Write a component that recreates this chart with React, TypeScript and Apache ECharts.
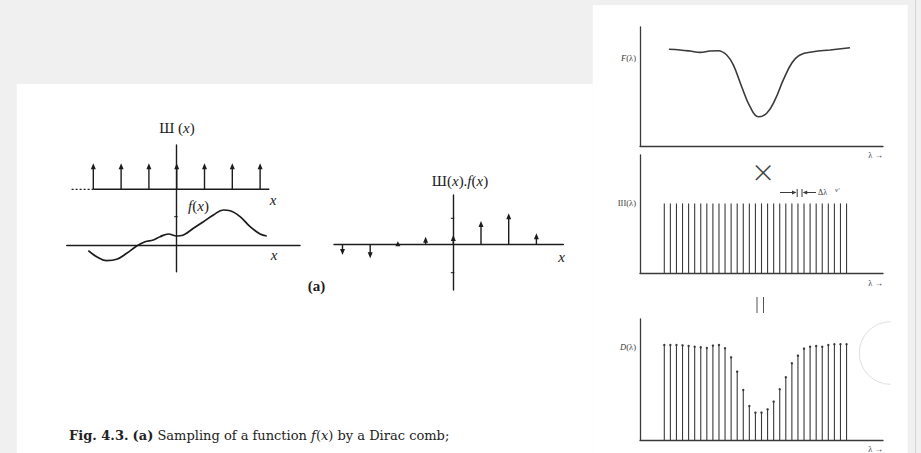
import React, { useEffect, useRef } from "react";
import * as echarts from "echarts";

// ---- Left figure: Dirac comb Ш(x) and f(x) ----
const combX = [-3, -2, -1, 0, 1, 2, 3];
const combBase = 55.7;
const combTop = 81.7;
const fCurve: number[][] = [
  [-3.18, -5.7], [-2.88, -11.7], [-2.52, -15.7], [-2.16, -14.3], [-1.8, -8.3],
  [-1.44, -1], [-1.14, 3.3], [-0.84, 5], [-0.6, 8.3], [-0.3, 11], [0, 9],
  [0.24, 10], [0.6, 16.7], [0.96, 23.3], [1.32, 30], [1.68, 35], [1.92, 34.3],
  [2.28, 28.3], [2.64, 18.3], [3.0, 11], [3.24, 9],
];
// ---- Sampled product Ш(x).f(x) ----
const sampleX = [-4, -3, -2, -1, 0, 1, 2, 3];
const sampleValues = [-10.7, -14, 3, 7.6, 9.3, 23.3, 31, 11];

// ---- Right figure: F(λ), III(λ), D(λ) ----
const fLambda: number[][] = [
  [4.77, 81.3], [6.58, 80.7], [8.23, 79.8], [9.88, 78.7], [11.52, 79.8],
  [12.89, 80.1], [14.27, 76.5], [15.36, 68.1], [16.74, 49.8], [18.11, 33.0],
  [19.47, 24.6], [20.86, 27.5], [22.22, 38.7], [23.59, 55.5], [24.97, 69.5],
  [26.34, 76.5], [28.53, 79.2], [31.28, 80.7], [34.57, 82.6],
];
const lambdaSamples = [
  4, 5, 6, 7, 8, 9, 10, 11, 12, 13, 14, 15, 16, 17, 18, 19, 20, 21, 22, 23,
  24, 25, 26, 27, 28, 29, 30, 31, 32, 33, 34,
];
const combValues = [
  59, 59, 59, 59, 59, 59, 59, 59, 59, 59, 59, 59, 59, 59, 59, 59, 59, 59, 59,
  59, 59, 59, 59, 59, 59, 59, 59, 59, 59, 59, 59,
];
const dValues = [
  78.5, 78.5, 78.5, 78.2, 77.7, 77.1, 76.6, 76.0, 78.0, 78.5, 75.8, 68.3, 56.5,
  41.3, 28.1, 22.6, 22.6, 25.3, 31.7, 41.9, 51.8, 63.4, 69.7, 75.5, 77.1, 77.7,
  77.1, 78.5, 79.1, 79.1, 79.1,
];

const INK = "#1c1c1c";
const INK2 = "#3a3a3a";
const SERIF = "Liberation Serif";

function axis(gridIndex: number, min: number, max: number, color: string, width: number, onZero: boolean) {
  return {
    type: "value",
    gridIndex,
    min,
    max,
    z: 5,
    axisLine: { show: true, onZero, lineStyle: { color, width } },
    axisTick: { show: false },
    axisLabel: { show: false },
    splitLine: { show: false },
  };
}

function arrowRender(color: string) {
  return (_p: any, api: any) => {
    const x = api.value(0);
    const y0 = api.value(1);
    const y1 = api.value(2);
    const p0 = api.coord([x, y0]);
    const p1 = api.coord([x, y1]);
    const dir = p1[1] < p0[1] ? -1 : 1;
    const len = Math.abs(p1[1] - p0[1]);
    const hh = Math.min(6, len + 2);
    const hw = 2.5;
    return {
      type: "group",
      children: [
        {
          type: "line",
          shape: { x1: p0[0], y1: p0[1], x2: p1[0], y2: p1[1] - dir * hh * 0.5 },
          style: { stroke: color, lineWidth: 1.4 },
        },
        {
          type: "polygon",
          shape: {
            points: [
              [p1[0], p1[1]],
              [p1[0] - hw, p1[1] - dir * hh],
              [p1[0] + hw, p1[1] - dir * hh],
            ],
          },
          style: { fill: color },
        },
      ],
    };
  };
}

function tickRender(color: string) {
  return (_p: any, api: any) => {
    const p = api.coord([api.value(0), api.value(1)]);
    return {
      type: "line",
      shape: { x1: p[0] - 2.5, y1: p[1], x2: p[0] + 1, y2: p[1] },
      style: { stroke: color, lineWidth: 1 },
    };
  };
}

function stemRender(color: string, dot: boolean) {
  return (_p: any, api: any) => {
    const x = api.value(0);
    const v = api.value(1);
    const p0 = api.coord([x, 0]);
    const p1 = api.coord([x, v]);
    const children: any[] = [
      {
        type: "line",
        shape: { x1: p0[0], y1: p0[1], x2: p1[0], y2: p1[1] },
        style: { stroke: color, lineWidth: 1.1 },
      },
    ];
    if (dot) {
      children.push({
        type: "circle",
        shape: { cx: p1[0], cy: p1[1], r: 1.2 },
        style: { fill: color },
      });
    }
    return { type: "group", children };
  };
}

function txt(x: number, y: number, text: string, size: number, align: string, extra: any = {}) {
  return {
    type: "text",
    x,
    y,
    z: 20,
    silent: true,
    style: {
      text,
      x: 0,
      y: 0,
      fontFamily: SERIF,
      fontSize: size,
      fill: INK,
      align,
      verticalAlign: "middle",
      ...extra,
    },
  };
}

export default function App() {
  const ref = useRef<HTMLDivElement>(null);

  useEffect(() => {
    if (!ref.current) return;
    const chart = echarts.init(ref.current, undefined, { renderer: "svg" });

    const italic = (size: number, fam = SERIF) => ({ fontStyle: "italic", fontSize: size, fontFamily: fam });

    const option: any = {
      animation: false,
      backgroundColor: "#f0f0f0",
      grid: [
        { left: 66.7, top: 145, width: 233.3, height: 126.7 },
        { left: 334, top: 195, width: 229.3, height: 95 },
        { left: 640, top: 27, width: 243, height: 119 },
        { left: 640, top: 155, width: 243, height: 118 },
        { left: 640, top: 319, width: 243, height: 121 },
      ],
      xAxis: [
        axis(0, -3.957, 4.435, INK, 1.4, true),
        axis(1, -4.307, 3.971, INK, 1.4, true),
        axis(2, 0, 40, INK2, 1.3, false),
        axis(3, 0, 40, INK2, 1.3, false),
        axis(4, 0, 40, INK2, 1.3, false),
      ],
      yAxis: [
        axis(0, -26.7, 100, INK, 1.4, true),
        axis(1, -45.7, 49.3, INK, 1.4, true),
        axis(2, 0, 100, INK2, 1.3, false),
        axis(3, 0, 100, INK2, 1.3, false),
        axis(4, 0, 100, INK2, 1.3, false),
      ],
      series: [
        {
          type: "line",
          xAxisIndex: 0,
          yAxisIndex: 0,
          data: fCurve,
          smooth: 0.4,
          showSymbol: false,
          z: 6,
          lineStyle: { color: INK, width: 1.7 },
        },
        {
          type: "line",
          xAxisIndex: 0,
          yAxisIndex: 0,
          data: [[-3.0, combBase], [3.33, combBase]],
          showSymbol: false,
          z: 6,
          lineStyle: { color: INK, width: 1.4 },
        },
        {
          type: "line",
          xAxisIndex: 0,
          yAxisIndex: 0,
          data: [[-3.78, combBase], [-3.0, combBase]],
          showSymbol: false,
          z: 6,
          lineStyle: { color: INK, width: 1.2, type: [2, 2] },
        },
        {
          type: "custom",
          xAxisIndex: 0,
          yAxisIndex: 0,
          z: 6,
          data: combX.map((x) => [x, combBase, combTop]),
          renderItem: arrowRender(INK),
        },
        {
          type: "custom",
          xAxisIndex: 0,
          yAxisIndex: 0,
          z: 6,
          data: [[0, 28.3]],
          renderItem: tickRender(INK),
        },
        {
          type: "custom",
          xAxisIndex: 1,
          yAxisIndex: 1,
          z: 6,
          data: sampleX.map((x, i) => [x, 0, sampleValues[i]]),
          renderItem: arrowRender(INK),
        },
        {
          type: "custom",
          xAxisIndex: 1,
          yAxisIndex: 1,
          z: 6,
          data: [[0, 26], [0, -28.4]],
          renderItem: tickRender(INK),
        },
        {
          type: "line",
          xAxisIndex: 2,
          yAxisIndex: 2,
          data: fLambda,
          smooth: 0.4,
          showSymbol: false,
          z: 6,
          lineStyle: { color: INK2, width: 1.6 },
        },
        {
          type: "custom",
          xAxisIndex: 3,
          yAxisIndex: 3,
          z: 6,
          data: lambdaSamples.map((x, i) => [x, combValues[i]]),
          renderItem: stemRender(INK2, false),
        },
        {
          type: "custom",
          xAxisIndex: 4,
          yAxisIndex: 4,
          z: 6,
          data: lambdaSamples.map((x, i) => [x, dValues[i]]),
          renderItem: stemRender(INK2, true),
        },
      ],
      graphic: [
        { type: "rect", z: 0, silent: true, shape: { x: 16.7, y: 84, width: 576, height: 369 }, style: { fill: "#ffffff" } },
        { type: "rect", z: 0, silent: true, shape: { x: 592.7, y: 5, width: 315, height: 448 }, style: { fill: "#ffffff" } },
        { type: "line", z: 1, silent: true, shape: { x1: 915.5, y1: 0, x2: 915.5, y2: 453 }, style: { stroke: "#d4d4d4", lineWidth: 1 } },
        { type: "arc", z: 1, silent: true, shape: { cx: 890.6, cy: 353, r: 31.3, startAngle: Math.PI / 2, endAngle: (3 * Math.PI) / 2, clockwise: true }, style: { stroke: "#e0e0e0", lineWidth: 1, fill: null } },

        // left figure labels
        txt(177, 128, "Ш ({i|x})", 15, "center", { rich: { i: italic(15) } }),
        txt(273, 200, "x", 15, "center", { fontStyle: "italic" }),
        txt(198.5, 206, "{i|f}({i|x})", 15, "center", { rich: { i: italic(15) } }),
        txt(274, 255, "x", 15, "center", { fontStyle: "italic" }),
        txt(460, 180.5, "Ш({i|x}).{i|f}({i|x})", 15, "center", { rich: { i: italic(15) } }),
        txt(561.7, 256.7, "x", 15, "center", { fontStyle: "italic" }),
        txt(316.6, 285.5, "(a)", 15, "center", { fontWeight: "bold" }),
        txt(
          69,
          435,
          "{b|Fig. 4.3.} {b|(a)} Sampling of a function {i|f}({i|x}) by a Dirac comb;",
          13,
          "left",
          {
            fontFamily: "DejaVu Serif",
            fill: "#222222",
            rich: {
              b: { fontWeight: "bold", fontSize: 13, fontFamily: "DejaVu Serif" },
              i: italic(13, "DejaVu Serif"),
            },
          }
        ),

        // right figure labels
        txt(636, 58.3, "{i|F}(λ)", 8.5, "right", { fill: INK2, rich: { i: italic(8.5) } }),
        txt(883, 155, "λ →", 8.5, "right", { fill: INK2 }),
        txt(636, 203, "III(λ)", 8.5, "right", { fill: INK2 }),
        txt(883, 282.7, "λ →", 8.5, "right", { fill: INK2 }),
        txt(636, 346.7, "{i|D}(λ)", 8.5, "right", { fill: INK2, rich: { i: italic(8.5) } }),
        txt(883, 448.5, "λ →", 8.5, "right", { fill: INK2 }),
        txt(763, 169.5, "×", 36, "center", { fill: "#444444", fontFamily: "Inter", fontWeight: 200 }),

        // "||" (equals) between comb and D
        { type: "line", z: 10, silent: true, shape: { x1: 757, y1: 297, x2: 757, y2: 313 }, style: { stroke: "#555", lineWidth: 1 } },
        { type: "line", z: 10, silent: true, shape: { x1: 763.5, y1: 297, x2: 763.5, y2: 313 }, style: { stroke: "#555", lineWidth: 1 } },

        // Δλ annotation
        { type: "line", z: 10, silent: true, shape: { x1: 780, y1: 192.5, x2: 793, y2: 192.5 }, style: { stroke: INK2, lineWidth: 1 } },
        { type: "polygon", z: 10, silent: true, shape: { points: [[796.5, 192.5], [792, 190.6], [792, 194.4]] }, style: { fill: INK2 } },
        { type: "line", z: 10, silent: true, shape: { x1: 797.2, y1: 189, x2: 797.2, y2: 197 }, style: { stroke: INK2, lineWidth: 1 } },
        { type: "line", z: 10, silent: true, shape: { x1: 802, y1: 189, x2: 802, y2: 197 }, style: { stroke: INK2, lineWidth: 1 } },
        { type: "polygon", z: 10, silent: true, shape: { points: [[802.7, 192.5], [807.2, 190.6], [807.2, 194.4]] }, style: { fill: INK2 } },
        { type: "line", z: 10, silent: true, shape: { x1: 806, y1: 192.5, x2: 816, y2: 192.5 }, style: { stroke: INK2, lineWidth: 1 } },
        txt(818, 192.5, "Δλ", 8, "left", { fill: INK2 }),
        txt(835, 190, "ν'", 7, "left", { fill: INK2, fontStyle: "italic" }),
      ],
    };

    chart.setOption(option);
    return () => chart.dispose();
  }, []);

  return (
    <div
      ref={ref}
      style={{ position: "fixed", left: 0, top: 0, width: 921, height: 453 }}
    />
  );
}
